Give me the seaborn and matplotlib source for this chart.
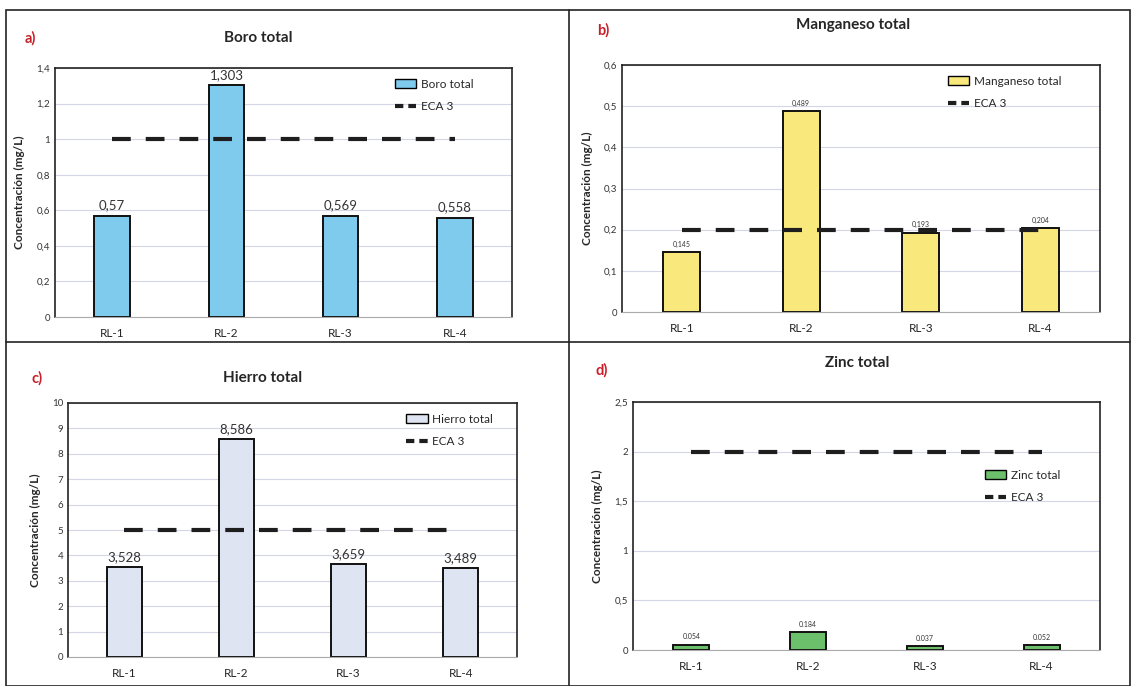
import pandas as pd
import seaborn as sns
from matplotlib import pyplot as plt
from matplotlib.patches import Rectangle
from matplotlib.lines import Line2D


# Datos de cada panel
puntos = ['RL-1', 'RL-2', 'RL-3', 'RL-4']

boro = [0.57, 1.303, 0.569, 0.558]
manganeso = [0.145, 0.489, 0.193, 0.204]
hierro = [3.528, 8.586, 3.659, 3.489]
zinc = [0.054, 0.184, 0.037, 0.052]

eca_boro = 1
eca_manganeso = 0.2
eca_hierro = 5
eca_zinc = 2

ticks_boro = [0, 0.2, 0.4, 0.6, 0.8, 1, 1.2, 1.4]
ticks_manganeso = [0, 0.1, 0.2, 0.3, 0.4, 0.5, 0.6]
ticks_hierro = [0, 1, 2, 3, 4, 5, 6, 7, 8, 9, 10]
ticks_zinc = [0, 0.5, 1, 1.5, 2, 2.5]


sns.set_style('white')
plt.rcParams['font.family'] = ['Lato', 'DejaVu Sans']

W, H = 1132, 686
fig = plt.figure(figsize=(W / 100, H / 100), dpi=100)


def rect(x0, y0, x1, y1):
    return [x0 / W, 1 - y1 / H, (x1 - x0) / W, (y1 - y0) / H]


def fmt(v, sep=','):
    return f'{v:g}'.replace('.', sep)


paneles = [
    # letra, titulo, valores, eca, color, ticks, sep, tam. etiqueta, ejes, titulo xy, letra xy, leyenda
    ('a)', 'Boro total', boro, eca_boro, '#7fcbee', ticks_boro, ',', 9.5,
     (55, 68, 512, 317), (258, 38), (30, 38), (0.72, 1.0)),
    ('b)', 'Manganeso total', manganeso, eca_manganeso, '#f9e97c', ticks_manganeso, ',', 5,
     (622, 65, 1100, 312), (853, 25), (603, 30), (0.66, 1.0)),
    ('c)', 'Hierro total', hierro, eca_hierro, '#dfe4f2', ticks_hierro, ',', 9.5,
     (68, 403, 517, 657), (263, 378), (37, 378), (0.73, 1.0)),
    ('d)', 'Zinc total', zinc, eca_zinc, '#6cc06c', ticks_zinc, '.', 5,
     (633, 402, 1100, 650), (857, 363), (602, 370), (0.73, 0.77)),
]

for letra, titulo, vals, eca, color, ticks, sep, fs, caja, txy, lxy, ley in paneles:
    ax = fig.add_axes(rect(*caja))
    df = pd.DataFrame({'Punto': puntos, 'Valor': vals})
    sns.barplot(data=df, x='Punto', y='Valor', color=color, saturation=1,
                edgecolor='#111111', linewidth=1.4, width=0.31, ax=ax)
    sns.pointplot(x=puntos, y=[eca] * len(puntos), color='#1e1e1e', errorbar=None,
                  marker='', linestyle=(0, (4.5, 3.6)), linewidth=3, ax=ax)
    ax.bar_label(ax.containers[0], labels=[fmt(v, sep) for v in vals],
                 padding=3, fontsize=fs, color='#333333')

    ax.set_ylim(ticks[0], ticks[-1])
    ax.set_yticks(ticks)
    ax.set_yticklabels([fmt(t) for t in ticks], fontsize=7, color='#333333')
    ax.set_xlabel('')
    ax.set_ylabel('Concentración (mg/L)', fontsize=8.5, fontweight='bold', labelpad=8)
    ax.tick_params(axis='both', length=0)
    ax.tick_params(axis='x', labelsize=8.5, pad=8)
    ax.yaxis.grid(True, color='#d3d6e6', linewidth=0.8)
    ax.set_axisbelow(True)
    for lado in ['left', 'top', 'right']:
        ax.spines[lado].set_color('#222222')
        ax.spines[lado].set_linewidth(1.2)
    ax.spines['bottom'].set_color('#aaaaaa')
    ax.spines['bottom'].set_linewidth(0.8)

    handles = [Rectangle((0, 0), 1, 1, facecolor=color, edgecolor='black', linewidth=1),
               Line2D([], [], color='#1e1e1e', linewidth=3, linestyle=(0, (2, 1.2)))]
    ax.legend(handles, [titulo, 'ECA 3'], loc='upper left', bbox_to_anchor=ley,
              frameon=False, fontsize=8.5, handlelength=1.8, labelspacing=1.0,
              handletextpad=0.4)

    fig.text(txy[0] / W, 1 - txy[1] / H, titulo, fontsize=11, fontweight='bold',
             ha='center', va='center')
    fig.text(lxy[0] / W, 1 - lxy[1] / H, letra, fontsize=10.5, fontweight='bold',
             color='#c8202a', ha='center', va='center')

# Marcos de los paneles
fig.add_artist(Rectangle((6 / W, 1 - 686 / H), 1124 / W, 676 / H, fill=False,
                         edgecolor='#222222', linewidth=1.2, transform=fig.transFigure))
fig.add_artist(Line2D([6 / W, 1130 / W], [1 - 342 / H] * 2, color='#222222',
                      linewidth=1.2, transform=fig.transFigure))
fig.add_artist(Line2D([569 / W] * 2, [1 - 10 / H, 0], color='#222222',
                      linewidth=1.2, transform=fig.transFigure))

fig.savefig('out.png', dpi=100)
